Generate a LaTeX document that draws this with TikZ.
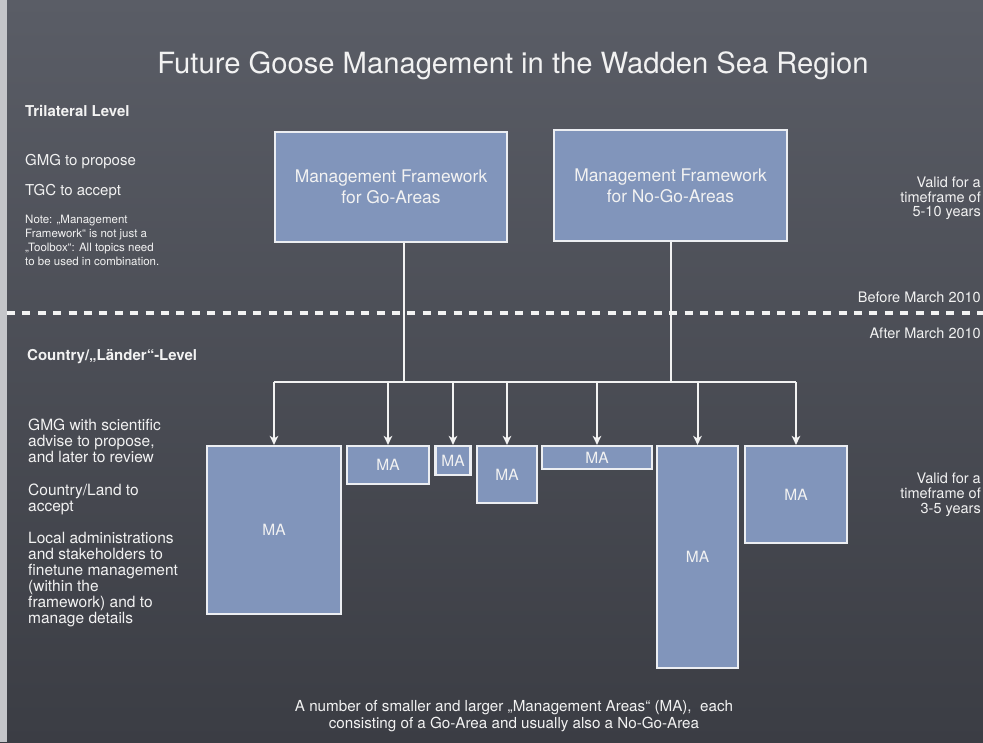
\documentclass[tikz,border=0pt]{standalone}
\usepackage{fontspec}
\setmainfont{TeX Gyre Heros}
\usetikzlibrary{arrows.meta}

\definecolor{boardtop}{HTML}{5A5D66}
\definecolor{boardmid}{HTML}{4D5059}
\definecolor{boardbot}{HTML}{3B3D44}
\definecolor{chalk}{HTML}{F2F2F2}
\definecolor{panel}{HTML}{8195BB}
\definecolor{panelrim}{HTML}{ECEEF2}
\definecolor{edgestrip}{HTML}{C4C5C9}

\tikzset{
  panelbox/.style={draw=panelrim, line width=2.2pt, fill=panel, inner sep=0pt,
    text=chalk, align=center},
  frame/.style={panelbox, font=\fontsize{17.4}{21}\selectfont},
  ma/.style={panelbox, font=\fontsize{15.5}{18}\selectfont},
  conn/.style={draw=chalk, line width=2pt},
  arr/.style={conn, -{Stealth[length=9pt,width=8.5pt,inset=2.5pt]}},
  divider/.style={draw=chalk, line width=3.5pt, dash pattern=on 8pt off 7.4pt},
  label/.style={text=chalk, inner sep=0pt},
  heading/.style={label, font=\bfseries\fontsize{15}{18}\selectfont},
  body/.style={label, align=left, font=\fontsize{15.5}{16}\selectfont},
  small/.style={label, align=left, font=\fontsize{11.5}{14}\selectfont},
  side/.style={label, align=right, font=\fontsize{14.5}{14.5}\selectfont},
}

\begin{document}
\begin{tikzpicture}[x=1pt, y=-1pt]
  \useasboundingbox (0,0) rectangle (983,742);

  % chalkboard
  \shade[top color=boardtop, middle color=boardmid, bottom color=boardbot]
    (0,0) rectangle (983,742);
  \fill[edgestrip] (0,0) rectangle (7,742);

  % title
  \node[label, anchor=base, font=\fontsize{29.2}{34}\selectfont] (title)
    at (513,73.5) {Future Goose Management in the Wadden Sea Region};

  % trilateral level, left column
  \node[heading, anchor=base west] (tri) at (25,116.5) {Trilateral Level};
  \node[label, anchor=base west, font=\fontsize{15}{18}\selectfont] (gmg)
    at (25,165.5) {GMG to propose};
  \node[label, anchor=base west, font=\fontsize{15}{18}\selectfont] (tgc)
    at (25,195.5) {TGC to accept};
  \node[small, anchor=north west] (note) at (25,214.6)
    {Note: „Management\\Framework“ is not just a\\„Toolbox“: All topics need\\to be used in combination.};

  % divider between the two periods
  \coordinate (divl) at (7,313);
  \coordinate (divr) at (983,313);
  \draw[divider] (divl) -- (divr);
  \node[side, anchor=base east] (before) at (981,302) {Before March 2010};
  \node[side, anchor=base east] (after) at (981,338) {After March 2010};

  % validity notes
  \node[side, anchor=north east] (valid1) at (981,176.8)
    {Valid for a\\timeframe of\\5-10 years};
  \node[side, anchor=north east, font=\fontsize{14.5}{15}\selectfont] (valid2)
    at (981,472.8) {Valid for a\\timeframe of\\3-5 years\hspace{9pt}};

  % country level, left column
  \node[heading, anchor=base west] (country) at (27,360.5) {Country/„Länder“-Level};
  \node[body, anchor=north west] (advise) at (28,419.2)
    {GMG with scientific\\advise to propose,\\and later to review};
  \node[body, anchor=north west] (land) at (28,484.2)
    {Country/Land to\\accept};
  \node[body, anchor=north west] (local) at (28,532.2)
    {Local administrations\\and stakeholders to\\finetune management\\(within the\\framework) and to\\manage details};

  % management frameworks
  \node[frame, minimum width=232pt, minimum height=110pt] (go) at (391,187)
    {Management Framework\\for Go-Areas};
  \node[frame, minimum width=233pt, minimum height=111pt] (nogo) at (670.5,185.5)
    {Management Framework\\for No-Go-Areas};

  % management areas
  \node[ma, minimum width=134pt, minimum height=168pt] (ma1) at (274,530)   {MA};
  \node[ma, minimum width=82pt,  minimum height=38pt]  (ma2) at (388,465)   {MA};
  \node[ma, minimum width=35pt,  minimum height=29pt]  (ma3) at (453,460.5) {MA};
  \node[ma, minimum width=60pt,  minimum height=57pt]  (ma4) at (507,474.5) {MA};
  \node[ma, minimum width=110pt, minimum height=23pt]  (ma5) at (597,457.5) {MA};
  \node[ma, minimum width=81pt,  minimum height=222pt] (ma6) at (697.5,557) {MA};
  \node[ma, minimum width=102pt, minimum height=97pt]  (ma7) at (796,494.5) {MA};

  % distribution bus
  \coordinate (bus) at (0,382);
  \coordinate (gojoin) at (404,382);
  \draw[conn] (go.south -| gojoin) -- (gojoin);
  \draw[conn] (nogo.south) -- (nogo.south |- bus);
  \draw[conn] (ma1.north |- bus) -- (ma7.north |- bus);
  \foreach \m in {ma1,ma2,ma3,ma4,ma5,ma6,ma7}
    \draw[arr] (\m.north |- bus) -- (\m.north);

  % caption
  \node[label, anchor=north, align=center, font=\fontsize{15.2}{16.5}\selectfont] (caption)
    at (514,700.6)
    {A number of smaller and larger „Management Areas“ (MA),~ each\\consisting of a Go-Area and usually also a No-Go-Area};
\end{tikzpicture}
\end{document}
